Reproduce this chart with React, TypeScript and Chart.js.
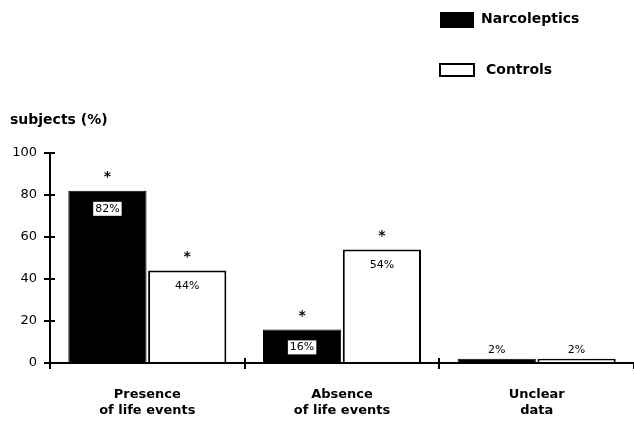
import React, { useEffect, useRef } from "react";
import { Chart, registerables } from "chart.js";

Chart.register(...registerables);

const categories: string[][] = [
  ["Presence", "of life events"],
  ["Absence", "of life events"],
  ["Unclear", "data"],
];
const narcoleptics = [82, 16, 2];
const controls = [44, 54, 2];
const narcoSignificant = [true, true, false];
const controlsSignificant = [true, true, false];
const yTicks = [0, 20, 40, 60, 80, 100];
const yTitle = "subjects (%)";
const seriesNames = ["Narcoleptics", "Controls"];

const FONT = "'DejaVu Sans', Verdana, sans-serif";

const annotatePlugin = {
  id: "annotate",
  afterDatasetsDraw(chart: any) {
    const ctx = chart.ctx;
    ctx.save();
    const sigs = [narcoSignificant, controlsSignificant];
    chart.data.datasets.forEach((ds: any, di: number) => {
      const meta = chart.getDatasetMeta(di);
      meta.data.forEach((bar: any, i: number) => {
        const v = ds.data[i];
        const label = v + "%";
        ctx.font = `11px ${FONT}`;
        ctx.textAlign = "center";
        ctx.textBaseline = "middle";
        const small = v < 10;
        if (small) {
          ctx.fillStyle = "#000";
          ctx.fillText(label, bar.x, bar.y - 9);
        } else {
          const ly = bar.y + (di === 0 ? 18 : 16);
          if (di === 0) {
            const w = ctx.measureText(label).width + 4;
            ctx.fillStyle = "#fff";
            ctx.fillRect(bar.x - w / 2, ly - 7, w, 14);
          }
          ctx.fillStyle = "#000";
          ctx.fillText(label, bar.x, ly);
        }
        if (sigs[di][i]) {
          ctx.font = `bold 14px ${FONT}`;
          ctx.fillStyle = "#000";
          ctx.fillText("*", bar.x, bar.y - 13);
        }
      });
    });
    ctx.restore();
  },
  afterDraw(chart: any) {
    const ctx = chart.ctx;
    const { x, y } = chart.scales;
    const area = chart.chartArea;
    ctx.save();
    // inner halves of tick marks (crossing ticks)
    ctx.strokeStyle = "#000";
    ctx.lineWidth = 2;
    ctx.beginPath();
    for (let i = 1; i < chart.data.labels.length; i++) {
      const px = Math.round(x.getPixelForValue(i) - (x.getPixelForValue(1) - x.getPixelForValue(0)) / 2);
      ctx.moveTo(px, area.bottom);
      ctx.lineTo(px, area.bottom - 5);
    }
    yTicks.forEach((v) => {
      const py = Math.round(y.getPixelForValue(v));
      ctx.moveTo(area.left, py);
      ctx.lineTo(area.left + 5, py);
    });
    ctx.stroke();
    // y title
    ctx.font = `bold 14px ${FONT}`;
    ctx.fillStyle = "#000";
    ctx.textAlign = "left";
    ctx.textBaseline = "middle";
    ctx.fillText(yTitle, 10, 120);
    // legend
    ctx.fillStyle = "#000";
    ctx.fillRect(440, 12, 34, 16);
    ctx.strokeStyle = "#000";
    ctx.lineWidth = 2;
    ctx.strokeRect(440, 64, 34, 12);
    ctx.font = `bold 14px ${FONT}`;
    ctx.fillText(seriesNames[0], 481, 19);
    ctx.fillText(seriesNames[1], 486, 70);
    ctx.restore();
  },
};

export default function App() {
  const ref = useRef<HTMLCanvasElement>(null);
  useEffect(() => {
    if (!ref.current) return;
    const chart = new Chart(ref.current, {
      type: "bar",
      data: {
        labels: categories,
        datasets: [
          {
            label: seriesNames[0],
            data: narcoleptics,
            backgroundColor: "#000",
            borderColor: "#000",
            borderWidth: 1,
            categoryPercentage: 0.82,
            barPercentage: 0.98,
          },
          {
            label: seriesNames[1],
            data: controls,
            backgroundColor: "#fff",
            borderColor: "#000",
            borderWidth: 2,
            categoryPercentage: 0.82,
            barPercentage: 0.98,
          },
        ],
      },
      options: {
        responsive: false,
        animation: false,
        devicePixelRatio: 1,
        layout: { padding: { top: 153, left: 0, right: 0, bottom: 0 } },
        plugins: { legend: { display: false }, tooltip: { enabled: false } },
        scales: {
          x: {
            border: { display: true, color: "#000", width: 2 },
            grid: {
              display: true,
              drawOnChartArea: false,
              drawTicks: true,
              tickLength: 6,
              color: "#000",
              lineWidth: 2,
            },
            ticks: {
              color: "#000",
              font: { family: FONT, size: 13, weight: "bold" },
              padding: 18,
              maxRotation: 0,
            },
            afterFit: (s: any) => {
              s.height = 59;
            },
          },
          y: {
            min: 0,
            max: 100,
            afterBuildTicks: (s: any) => {
              s.ticks = yTicks.map((v) => ({ value: v }));
            },
            border: { display: true, color: "#000", width: 2 },
            grid: {
              display: true,
              drawOnChartArea: false,
              drawTicks: true,
              tickLength: 6,
              color: "#000",
              lineWidth: 2,
            },
            ticks: {
              color: "#000",
              font: { family: FONT, size: 13 },
              padding: 7,
            },
            afterFit: (s: any) => {
              s.width = 50;
            },
          },
        },
      },
      plugins: [annotatePlugin],
    });
    return () => chart.destroy();
  }, []);
  return (
    <div style={{ position: "fixed", left: 0, top: 0, width: 634, height: 422, background: "#fff" }}>
      <canvas ref={ref} width={634} height={422} style={{ width: 634, height: 422 }} />
    </div>
  );
}
